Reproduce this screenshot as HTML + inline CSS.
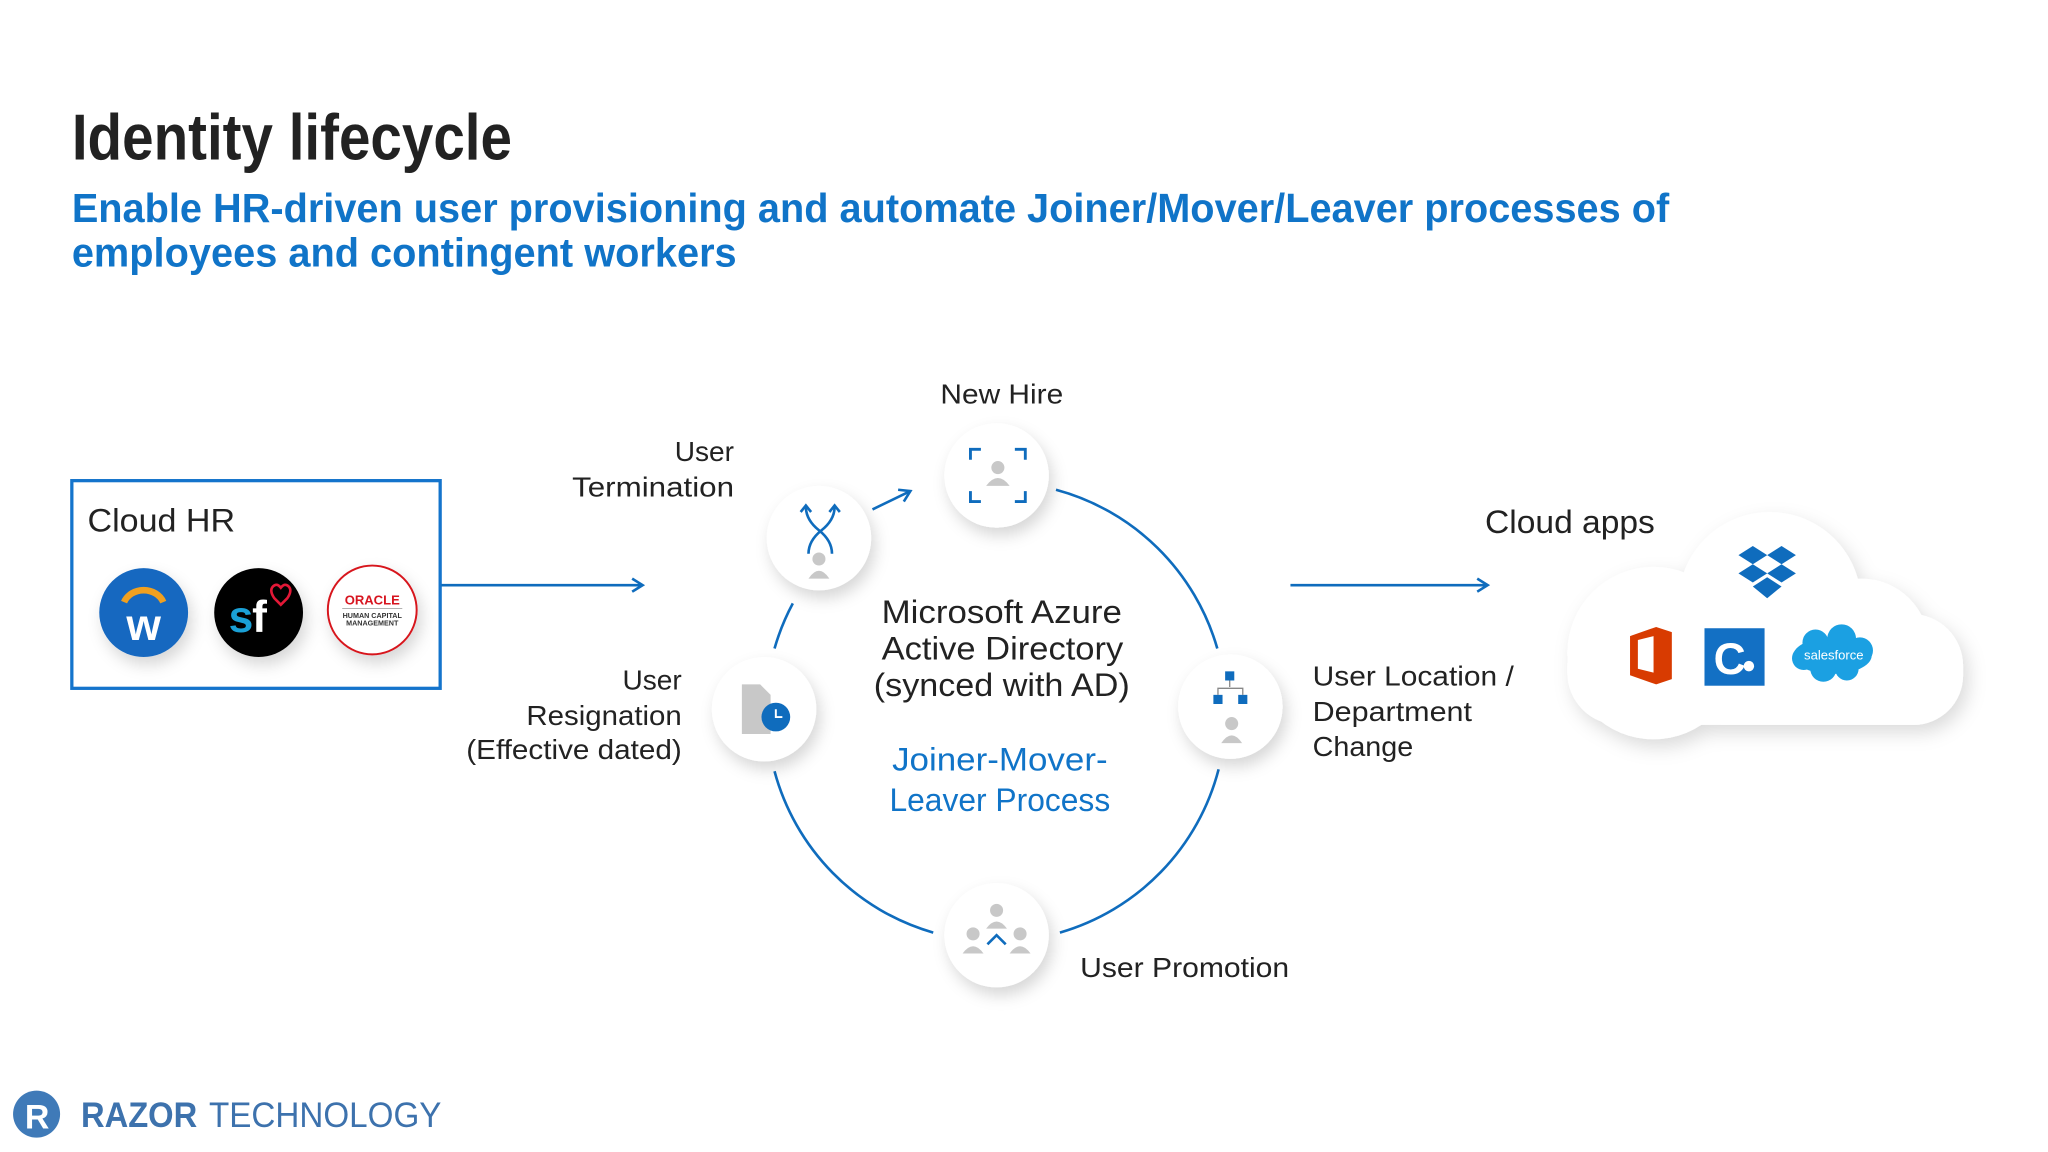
<!DOCTYPE html>
<html><head><meta charset="utf-8"><style>
html,body{margin:0;padding:0;background:#fff;}
svg{display:block;}
text{font-family:"Liberation Sans",sans-serif;}
</style></head><body>
<svg width="2048" height="1152" viewBox="0 0 1568 882" xmlns="http://www.w3.org/2000/svg">
<defs>
<filter id="sh" x="-50%" y="-50%" width="200%" height="200%"><feDropShadow dx="3" dy="6" stdDeviation="6" flood-color="#000" flood-opacity="0.16"/></filter>
<filter id="sh2" x="-20%" y="-30%" width="140%" height="160%"><feDropShadow dx="4" dy="6" stdDeviation="7" flood-color="#000" flood-opacity="0.14"/></filter>
<marker id="ar" markerWidth="12" markerHeight="12" refX="10" refY="6" orient="auto" markerUnits="userSpaceOnUse"><path d="M2,1 L10,6 L2,11" fill="none" stroke="#0f6cbd" stroke-width="2"/></marker>
</defs>
<rect width="1568" height="882" fill="#fff"/>
<!-- Title -->
<text x="55" y="122" font-size="50" fill="#222" textLength="337" lengthAdjust="spacingAndGlyphs" font-weight="600">Identity lifecycle</text>
<text x="55" y="170" font-size="31" fill="#1074c8" textLength="1223" lengthAdjust="spacingAndGlyphs" font-weight="600">Enable HR-driven user provisioning and automate Joiner/Mover/Leaver processes of</text>
<text x="55" y="204" font-size="31" fill="#1074c8" textLength="509" lengthAdjust="spacingAndGlyphs" font-weight="600">employees and contingent workers</text>

<!-- Cloud HR -->
<rect x="55" y="368" width="282" height="159" fill="#fff" stroke="#1474cc" stroke-width="2.5"/>
<text x="67" y="407" font-size="25" fill="#222" textLength="113" lengthAdjust="spacingAndGlyphs">Cloud HR</text>
<g filter="url(#sh)">
<circle cx="110" cy="469" r="34" fill="#1668c0"/>
<circle cx="198" cy="469" r="34" fill="#000"/>
<circle cx="285" cy="467" r="34" fill="#fff" stroke="#d7141f" stroke-width="1.5"/>
</g>
<path d="M95,461 A16,14 0 0 1 125,461" fill="none" stroke="#f0a020" stroke-width="5"/>
<text x="110" y="490" font-size="34" fill="#fff" text-anchor="middle" font-weight="bold">w</text>
<text x="175" y="484" font-size="34" fill="#1aa0d6" font-weight="bold">s</text>
<text x="193" y="484" font-size="34" fill="#fff" font-weight="bold">f</text>
<path d="M210,458 q-4,-6 -1,-9 q3,-3 6,1 q3,-4 6,-1 q3,3 -1,9 l-5,5z" fill="none" stroke="#e31837" stroke-width="2"/>
<text x="285" y="463" font-size="10" fill="#d7141f" text-anchor="middle" font-weight="bold">ORACLE</text>
<line x1="262" y1="466" x2="308" y2="466" stroke="#999" stroke-width="0.6"/>
<text x="285" y="473" font-size="5.5" fill="#333" text-anchor="middle" font-weight="bold">HUMAN CAPITAL</text>
<text x="285" y="479" font-size="5.5" fill="#333" text-anchor="middle" font-weight="bold">MANAGEMENT</text>

<!-- arrows -->
<line x1="338" y1="448" x2="492" y2="448" stroke="#0f6cbd" stroke-width="2" marker-end="url(#ar)"/>
<line x1="988" y1="448" x2="1139" y2="448" stroke="#0f6cbd" stroke-width="2" marker-end="url(#ar)"/>
<line x1="668" y1="390" x2="697" y2="376" stroke="#0f6cbd" stroke-width="2" marker-end="url(#ar)"/>

<!-- ring arcs center (763,545) r176 -->
<g fill="none" stroke="#0f6cbd" stroke-width="2">
<path d="M808.5,375 A176,176 0 0 1 932,496.5"/>
<path d="M933,589 A176,176 0 0 1 811.5,714"/>
<path d="M714.5,714 A176,176 0 0 1 593,590.5"/>
<path d="M593,496.5 A176,176 0 0 1 607,462"/>
</g>

<!-- nodes -->
<g filter="url(#sh)" fill="#fff">
<circle cx="763" cy="364" r="40"/>
<circle cx="627" cy="412" r="40"/>
<circle cx="585" cy="543" r="40"/>
<circle cx="942" cy="541" r="40"/>
<circle cx="763" cy="716" r="40"/>
</g>
<!-- New hire icon -->
<g fill="none" stroke="#0f6cbd" stroke-width="2.2">
<path d="M743,352 v-8 h8 M777,344 h8 v8 M743,376 v8 h8 M777,384 h8 v-8"/>
</g>
<circle cx="764" cy="358" r="5" fill="#c8c8c8"/><path d="M755,372 q9,-12 18,0z" fill="#c8c8c8"/>
<!-- termination icon -->
<g fill="none" stroke="#0f6cbd" stroke-width="2">
<path d="M617,388 q0,10 10,18 q10,8 10,18 M639,388 q0,10 -10,18 q-10,8 -10,18"/>
<path d="M613,392 l4,-5 l4,5 M635,392 l4,-5 l4,5"/>
</g>
<circle cx="627" cy="428" r="5" fill="#c8c8c8"/><path d="M619,443 q8,-12 16,0z" fill="#c8c8c8"/>
<!-- resignation icon -->
<path d="M568,524 h14 l8,8 v30 h-22z" fill="#c8c8c8"/>
<circle cx="594" cy="549" r="11" fill="#0f6cbd"/>
<path d="M594,543 v6 h5" stroke="#fff" stroke-width="1.5" fill="none"/>
<!-- location icon -->
<g fill="#0f6cbd"><rect x="938" y="514" width="7" height="7"/><rect x="929" y="532" width="7" height="7"/><rect x="948" y="532" width="7" height="7"/></g>
<path d="M941.5,521 v5 M932.5,532 v-5 h19 v5" stroke="#888" stroke-width="1" fill="none"/>
<circle cx="943" cy="554" r="5" fill="#c8c8c8"/><path d="M935,569 q8,-12 16,0z" fill="#c8c8c8"/>
<!-- promotion icon -->
<g fill="#c8c8c8">
<circle cx="763" cy="697" r="5"/><path d="M755,711 q8,-11 16,0z"/>
<circle cx="745" cy="715" r="5"/><path d="M737,730 q8,-11 16,0z"/>
<circle cx="781" cy="715" r="5"/><path d="M773,730 q8,-11 16,0z"/>
</g>
<path d="M756,723 l7,-7 l7,7" stroke="#0f6cbd" stroke-width="2" fill="none"/>

<!-- labels -->
<g font-size="21.5" fill="#222">
<text x="720" y="309" textLength="94" lengthAdjust="spacingAndGlyphs">New Hire</text>
<text x="562" y="353" text-anchor="end">User</text>
<text x="438" y="380" textLength="124" lengthAdjust="spacingAndGlyphs">Termination</text>
<text x="522" y="528" text-anchor="end">User</text>
<text x="403" y="555" textLength="119" lengthAdjust="spacingAndGlyphs">Resignation</text>
<text x="357" y="581" textLength="165" lengthAdjust="spacingAndGlyphs">(Effective dated)</text>
<text x="1005" y="525" textLength="154" lengthAdjust="spacingAndGlyphs">User Location /</text>
<text x="1005" y="552" textLength="122" lengthAdjust="spacingAndGlyphs">Department</text>
<text x="1005" y="579" textLength="77" lengthAdjust="spacingAndGlyphs">Change</text>
<text x="827" y="748" textLength="160" lengthAdjust="spacingAndGlyphs">User Promotion</text>
</g>
<g font-size="25" fill="#222">
<text x="675" y="477" textLength="184" lengthAdjust="spacingAndGlyphs">Microsoft Azure</text>
<text x="675" y="505" textLength="185" lengthAdjust="spacingAndGlyphs">Active Directory</text>
<text x="669" y="533" textLength="196" lengthAdjust="spacingAndGlyphs">(synced with AD)</text>
<text x="1137" y="408" textLength="130" lengthAdjust="spacingAndGlyphs">Cloud apps</text>
</g>
<g font-size="25" fill="#1074c8">
<text x="683" y="590" textLength="165" lengthAdjust="spacingAndGlyphs">Joiner-Mover-</text>
<text x="681" y="621" textLength="169" lengthAdjust="spacingAndGlyphs">Leaver Process</text>
</g>

<!-- cloud -->
<g filter="url(#sh2)" fill="#fff">
<rect x="1200" y="470" width="303" height="85" rx="40"/>
<circle cx="1266" cy="500" r="66"/>
<circle cx="1355" cy="462" r="70"/>
<circle cx="1425" cy="495" r="52"/>
<circle cx="1465" cy="517" r="38"/>
</g>
<g fill="#0f6cbd">
<path d="M1342,418 l11,7 l-11,7 l-11,-7z"/><path d="M1364,418 l11,7 l-11,7 l-11,-7z"/>
<path d="M1342,432 l11,7 l-11,7 l-11,-7z"/><path d="M1364,432 l11,7 l-11,7 l-11,-7z"/>
<path d="M1342,449 l11,-7 l11,7 l-11,9z"/>
</g>
<path d="M1248,487 l20,-7 l12,4 v36 l-12,4 l-20,-7z" fill="#d83b01"/>
<path d="M1254,490 l12,-3 v28 l-12,-3z" fill="#fff"/>
<rect x="1305" y="481" width="46" height="44" fill="#1370c4"/>
<text x="1312" y="516" font-size="34" fill="#fff" font-weight="bold">C</text>
<circle cx="1339" cy="510" r="4" fill="#fff"/>
<g fill="#1ba0e2">
<ellipse cx="1403" cy="502" rx="30" ry="14"/><circle cx="1390" cy="492" r="10"/><circle cx="1410" cy="489" r="11"/><circle cx="1424" cy="498" r="10"/><circle cx="1396" cy="512" r="10"/><circle cx="1414" cy="512" r="9"/><circle cx="1381" cy="504" r="9"/>
</g>
<text x="1404" y="505" font-size="10" fill="#fff" text-anchor="middle">salesforce</text>

<!-- footer -->
<circle cx="28" cy="853" r="18" fill="#3f7ab8"/>
<text x="19" y="864" font-size="26" fill="#fff" font-weight="bold">R</text>
<text x="62" y="863" font-size="27" fill="#3d72ad" font-weight="bold" textLength="89" lengthAdjust="spacingAndGlyphs">RAZOR</text>
<text x="160" y="863" font-size="27" fill="#3d72ad" textLength="178" lengthAdjust="spacingAndGlyphs">TECHNOLOGY</text>
</svg>
</body></html>
